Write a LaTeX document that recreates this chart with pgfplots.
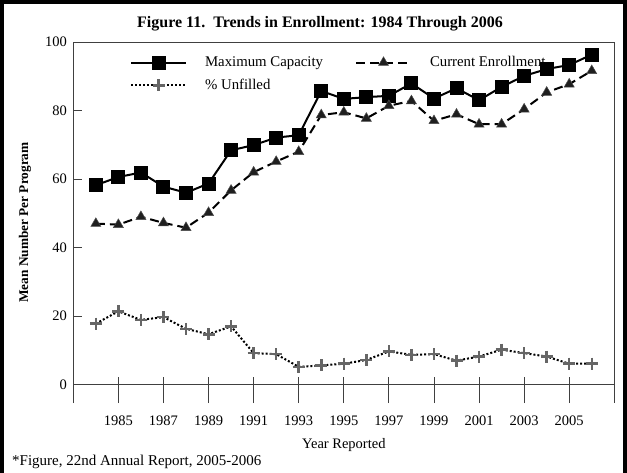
\documentclass[border=0pt]{standalone}
\usepackage{fontspec}
\setmainfont{Liberation Serif}
\usepackage{pgfplots}
\usepackage{pgfplotstable}
\pgfplotsset{compat=1.18}
\pgfplotstableread{
year maxcap current unfilled
1984 58.2 47.0 17.8
1985 60.6 46.7 21.4
1986 61.9 49.0 18.9
1987 57.8 47.2 19.7
1988 56.0 45.8 16.3
1989 58.7 50.2 14.7
1990 68.4 56.7 17.0
1991 69.9 62.0 9.2
1992 72.1 65.1 8.9
1993 72.8 68.0 5.2
1994 85.7 78.7 5.6
1995 83.4 79.5 6.1
1996 83.9 77.7 7.2
1997 84.3 81.4 9.7
1998 87.9 82.8 8.7
1999 83.5 77.0 8.9
2000 86.5 78.9 7.0
2001 83.0 76.0 8.2
2002 86.9 76.0 10.2
2003 90.1 80.4 9.2
2004 92.1 85.3 8.2
2005 93.3 87.7 6.1
2006 96.3 91.6 6.1
}\datatable
\begin{document}
\begin{tikzpicture}[x=1pt,y=1pt]
\useasboundingbox (0,0) rectangle (627,472);
\draw[line width=4pt] (2,-20) -- (2,470) -- (624.5,470) -- (624.5,-20);
\node[font=\fontsize{16}{19}\selectfont\bfseries] at (320,448) {Figure 11.\ \ Trends in Enrollment: 1984 Through 2006};
\node[font=\fontsize{15}{17}\selectfont, anchor=west, inner sep=0pt] at (12,10) {*Figure, 22nd Annual Report, 2005-2006};
\begin{axis}[
  at={(73.3pt,69pt)}, anchor=south west,
  scale only axis, width=541pt, height=361pt,
  xmin=1983, xmax=2007, ymin=-5.36, ymax=100,
  axis line style={draw=none},
  xtick={1985,1987,...,2005}, ytick={0,20,...,100},
  /pgf/number format/1000 sep={},
  /pgf/number format/assume math mode=true,
  tick label style={font=\fontsize{14.5}{17}\selectfont},
  xticklabel style={yshift=-9pt},
  yticklabel style={xshift=-3pt},
  xtick style={draw=none},
  ytick pos=left, tick align=inside, major tick length=9pt,
  ytick style={black!75, line width=0.8pt},
  xlabel={Year Reported},
  xlabel style={font=\fontsize{14.5}{17}\selectfont, yshift=-6pt},
  ylabel={Mean Number Per Program},
  ylabel style={font=\fontsize{13.3}{15}\selectfont\bfseries, yshift=7pt},
  legend columns=2, legend cell align=left,
  legend style={draw=none, fill=none, at={(rel axis cs:0.099,0.971)}, anchor=north west,
    font=\fontsize{14.8}{17}\selectfont, row sep=7pt,
    /tikz/every odd column/.append style={column sep=16pt},
    /tikz/every even column/.append style={column sep=30pt}},
  legend image code/.code={\draw[mark repeat=2,mark phase=2,#1] plot coordinates {(0pt,0pt) (27.5pt,0pt) (55pt,0pt)};},
  clip=false,
]
\draw[black!75, line width=0.8pt] (rel axis cs:0,0) -- (rel axis cs:0,1) -- (rel axis cs:1,1) -- (rel axis cs:1,0);
\draw[black!75, line width=0.8pt] (axis cs:1983,0) -- (axis cs:2007,0);
\pgfplotsinvokeforeach{1985,1987,1989,1991,1993,1995,1997,1999,2001,2003,2005}{
  \draw[black!75, line width=0.8pt] (axis cs:#1,-5.36) -- (axis cs:#1,2.3);
}
\addplot[black, line width=2pt, mark=square*, mark size=6pt, mark options={solid}] table[x=year, y=maxcap] {\datatable};
\addlegendentry{Maximum Capacity}
\addplot[black, line width=2pt, dash pattern=on 9pt off 5pt, mark=triangle*, mark size=5.8pt, mark options={solid, fill=black!88, draw=black!70, line width=0.5pt}] table[x=year, y=current] {\datatable};
\addlegendentry{Current Enrollment}
\addplot[black, line width=2pt, dash pattern=on 2pt off 2pt, mark=+, mark size=6pt, mark options={solid, draw=black!60, line width=2.5pt}] table[x=year, y=unfilled] {\datatable};
\addlegendentry{\% Unfilled}
\end{axis}
\end{tikzpicture}
\end{document}
